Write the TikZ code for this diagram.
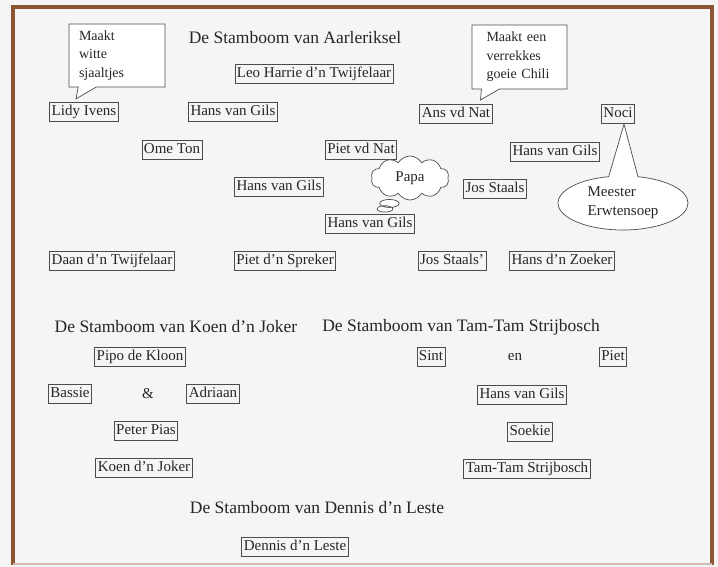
\documentclass[tikz,border=0pt]{standalone}
\usepackage{fontspec}
\setmainfont{Liberation Serif}
\usetikzlibrary{shapes.callouts,shapes.symbols,shapes.geometric}
\definecolor{lijst}{RGB}{140,86,52}
\definecolor{papier}{RGB}{245,245,245}

\begin{document}
\begin{tikzpicture}[x=1pt,y=-1pt,
  naam/.style={draw=black!70,line width=0.7pt,text=black!85,inner xsep=2pt,inner ysep=2.5pt,
    text height=11pt,text depth=3.5pt,font=\fontsize{15}{18}\selectfont},
  titel/.style={text=black!85,font=\fontsize{17.5}{21}\selectfont},
  los/.style={text=black!85,font=\fontsize{15}{18}\selectfont},
  wolk/.style={draw=black!70,line width=0.7pt,fill=white,text=black!85,
    font=\fontsize{14}{18.5}\selectfont}]
\useasboundingbox (0,0) rectangle (718,567);
\fill[papier] (0,0) rectangle (718,567);
\draw[lijst,line width=4pt] (13,565) -- (13,7) -- (712,7) -- (712,565);
\draw[lijst!40,line width=1.5pt] (13,564) -- (712,564);

% Aarleriksel
\node[titel] (titelA) at (295,38) {De Stamboom van Aarleriksel};
\node[naam] (leo) at (314,74) {Leo Harrie d'n Twijfelaar};
\node[naam] (lidy) at (84,112) {Lidy Ivens};
\node[naam] (hans1) at (233,112) {Hans van Gils};
\node[naam] (ans) at (456,114) {Ans vd Nat};
\node[naam] (noci) at (618,114) {Noci};
\node[naam] (ometon) at (172,150) {Ome Ton};
\node[naam] (pietnat) at (361,150) {Piet vd Nat};
\node[naam] (hans4) at (555,152) {Hans van Gils};
\node[naam] (hans2) at (279,187) {Hans van Gils};
\node[naam] (jos) at (495,189) {Jos Staals};
\node[naam] (hans3) at (370,224) {Hans van Gils};
\node[naam] (daan) at (112,261) {Daan d'n Twijfelaar};
\node[naam] (spreker) at (285,261) {Piet d'n Spreker};
\node[naam] (jos2) at (452,261) {Jos Staals'};
\node[naam] (zoeker) at (562,261) {Hans d'n Zoeker};

\node[wolk,rectangle callout,text width=76pt,inner xsep=10pt,inner ysep=4pt,minimum height=63pt,
  align=left,callout pointer width=18pt,
  callout absolute pointer={([xshift=-8pt,yshift=3pt]lidy.north)}] (sjaal) at (117,55.5) {Maakt\\witte\\sjaaltjes};
\node[wolk,rectangle callout,text width=66pt,inner xsep=14.5pt,inner ysep=4pt,minimum height=64pt,
  align=left,callout pointer width=18pt,
  callout absolute pointer={([xshift=-12pt,yshift=4pt]ans.north east)}] (chili) at (519.5,57) {Maakt een\\verrekkes\\goeie Chili};
\node[wolk,cloud callout,cloud puffs=10,cloud puff arc=120,cloud ignores aspect,
  minimum width=78pt,minimum height=44pt,inner sep=0pt,font=\fontsize{15}{18}\selectfont,
  callout pointer start size=.3 of callout,callout pointer end size=.2 of callout,
  callout absolute pointer={([xshift=15pt,yshift=5pt]hans3.north)}] (papa) at (410,178) {Papa};
\node[wolk,ellipse callout,minimum width=130pt,minimum height=54pt,inner sep=0pt,align=left,
  callout pointer arc=26,font=\fontsize{15}{19}\selectfont,
  callout absolute pointer={([xshift=6pt]noci.south)}] (soep) at (623,203) {Meester\\Erwtensoep};

% Koen d'n Joker
\node[titel] (titelK) at (176,327) {De Stamboom van Koen d'n Joker};
\node[naam] (pipo) at (140,357) {Pipo de Kloon};
\node[naam] (bassie) at (70,394) {Bassie};
\node[los] (en1) at (148,394) {\&};
\node[naam] (adriaan) at (213,394) {Adriaan};
\node[naam] (pias) at (146,431) {Peter Pias};
\node[naam] (koen) at (144,468) {Koen d'n Joker};

% Tam-Tam Strijbosch
\node[titel] (titelT) at (461,327) {De Stamboom van Tam-Tam Strijbosch};
\node[naam] (sint) at (431,357) {Sint};
\node[los] (en2) at (515,357) {en};
\node[naam] (piet) at (613,357) {Piet};
\node[naam] (hans5) at (522,395) {Hans van Gils};
\node[naam] (soekie) at (530,432) {Soekie};
\node[naam] (tamtam) at (527,469) {Tam-Tam Strijbosch};

% Dennis d'n Leste
\node[titel] (titelD) at (317,508) {De Stamboom van Dennis d'n Leste};
\node[naam] (dennis) at (295,547) {Dennis d'n Leste};
\end{tikzpicture}
\end{document}
